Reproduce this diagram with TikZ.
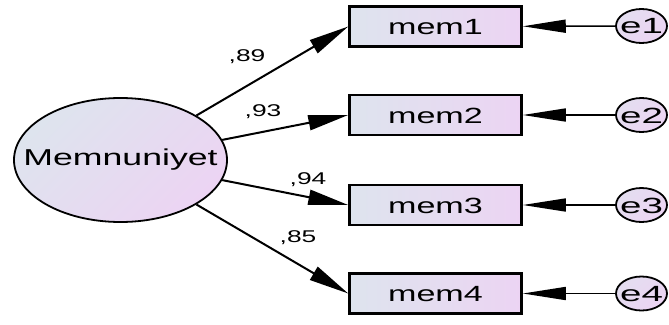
\documentclass[tikz,border=0pt]{standalone}
\usepackage{fontspec}
\setmainfont{Liberation Sans}
\setsansfont{Liberation Sans}
\usetikzlibrary{arrows.meta,shapes.geometric}
\definecolor{cA}{RGB}{222,228,238}
\definecolor{cB}{RGB}{236,212,243}
\tikzset{
  obsbox/.style={draw=black, line width=2.5pt, rectangle, minimum width=172pt, minimum height=40pt, inner sep=0pt, left color=cA, right color=cB},
  latent/.style={draw=black, line width=1.8pt, ellipse, minimum width=213pt, minimum height=124pt, inner sep=0pt, top color=cA, bottom color=cB, shading angle=45},
  errc/.style={draw=black, line width=1.8pt, ellipse, minimum width=51pt, minimum height=34pt, inner sep=0pt, top color=cA!60!cB, bottom color=cB, shading angle=45},
  boxtxt/.style={inner sep=0pt, font=\fontsize{22}{24}\selectfont},
  lbl/.style={inner sep=0pt, font=\fontsize{17}{19}\selectfont},
  load/.style={line width=2pt, -{Triangle[length=40pt,width=15pt]}},
  errarr/.style={line width=1.6pt, -{Triangle[length=43pt,width=13pt]}}
}
\newcommand{\wide}[1]{\scalebox{1.55}[1]{#1}}
\newcommand{\wider}[1]{\scalebox{1.75}[1]{#1}}
\begin{document}
\begin{tikzpicture}[x=1pt,y=-1pt]
\path[fill=white] (0,0) rectangle (669,324);
\useasboundingbox (0,0) rectangle (669,324);
% latent
\node[latent] (M) at (120.5,160) {};
\node[boxtxt, font=\fontsize{23}{25}\selectfont] (Mt) at (120.5,160) {\wide{Memnuniyet}};
% observed
\node[obsbox] (m1) at (435.5,26.5) {};
\node[obsbox] (m2) at (435.5,115) {};
\node[obsbox] (m3) at (435.5,205) {};
\node[obsbox] (m4) at (435.5,293.5) {};
\node[boxtxt] (m1t) at (435.5,27) {\wide{mem1}};
\node[boxtxt] (m2t) at (435.5,115.5) {\wide{mem2}};
\node[boxtxt] (m3t) at (435.5,205.5) {\wide{mem3}};
\node[boxtxt] (m4t) at (435.5,294) {\wide{mem4}};
% errors
\node[errc] (e1) at (641.5,26) {};
\node[errc] (e2) at (641.5,115) {};
\node[errc] (e3) at (641.5,205) {};
\node[errc] (e4) at (641.5,293.5) {};
\node[boxtxt] (e1t) at (641.5,26.5) {\wider{e1}};
\node[boxtxt] (e2t) at (641.5,115.5) {\wider{e2}};
\node[boxtxt] (e3t) at (641.5,205.5) {\wider{e3}};
\node[boxtxt] (e4t) at (641.5,294) {\wider{e4}};
% loadings
\draw[load] (M) -- (m1.west);
\draw[load] (M) -- (m2.west);
\draw[load] (M) -- (m3.west);
\draw[load] (M) -- (m4.west);
\draw[errarr] (e1) -- (m1);
\draw[errarr] (e2) -- (m2);
\draw[errarr] (e3) -- (m3);
\draw[errarr] (e4) -- (m4);
% labels
\node[lbl] (l1) at (247,57) {\wide{,89}};
\node[lbl] (l2) at (263,112) {\wide{,93}};
\node[lbl] (l3) at (308,180) {\wide{,94}};
\node[lbl] (l4) at (298,238) {\wide{,85}};
\end{tikzpicture}
\end{document}
